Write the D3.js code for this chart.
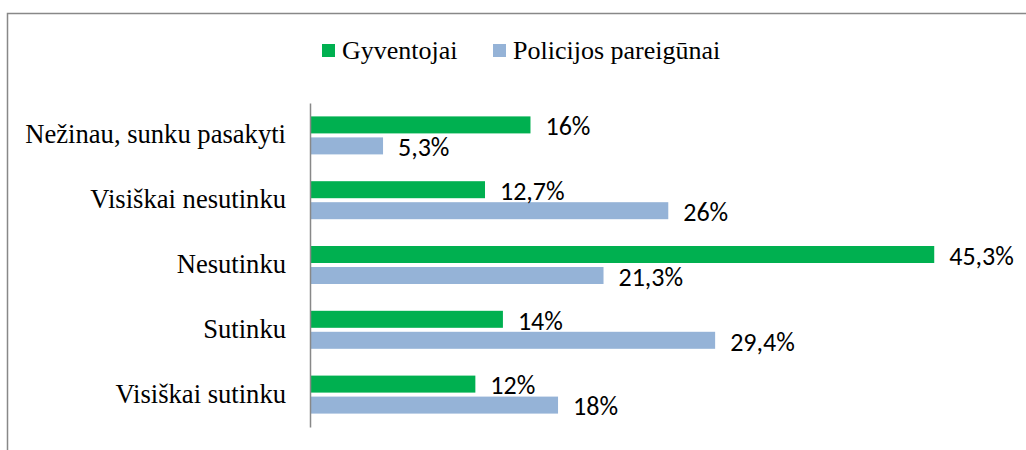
<!DOCTYPE html>
<html><head><meta charset="utf-8">
<script src="https://cdn.jsdelivr.net/npm/d3@7"></script>
<style>body{margin:0;background:#fff}svg{display:block}</style>
</head><body>
<svg id="c" width="1026" height="450"></svg>
<script>
const categories = ["Nežinau, sunku pasakyti","Visiškai nesutinku","Nesutinku","Sutinku","Visiškai sutinku"];
const seriesNames = ["Gyventojai","Policijos pareigūnai"];
const gyventojai = [16, 12.7, 45.3, 14, 12];
const policija = [5.3, 26, 21.3, 29.4, 18];
const colors = ["#00B050","#95B3D7"];

const svg = d3.select("#c");
// outer border
svg.append("path").attr("d","M7.5,460 V13.5 H1040").attr("fill","none").attr("stroke","#888").attr("stroke-width",1.5);

const x = d3.scaleLinear().domain([0,50]).range([310,999]);
const y0 = d3.scaleBand().domain(categories).range([103,427]);
const y1 = d3.scaleBand().domain(seriesNames).range([13.4, 51.4]).paddingInner(0.19);
const fmt = v => String(v).replace(".", ",") + "%";

const data = categories.map((c,i)=>({c, vals:[gyventojai[i], policija[i]]}));
const g = svg.selectAll("g.cat").data(data).enter().append("g").attr("transform",d=>`translate(0,${y0(d.c)})`);
g.selectAll("rect").data(d=>d.vals.map((v,j)=>({v,s:seriesNames[j],j}))).enter().append("rect")
  .attr("x",x(0)).attr("y",d=>y1(d.s)).attr("width",d=>x(d.v)-x(0)).attr("height",y1.bandwidth())
  .attr("fill",d=>colors[d.j]);
g.selectAll("text.v").data(d=>d.vals.map((v,j)=>({v,s:seriesNames[j],j}))).enter().append("text")
  .attr("x",d=>x(d.v)+15).attr("y",d=>y1(d.s)+y1.bandwidth()/2).attr("dy","0.4em")
  .attr("font-family","Carlito, 'Open Sans', sans-serif").attr("font-size",26).attr("fill","#000")
  .text(d=>fmt(d.v));

// category axis
const ax = svg.append("g").attr("transform",`translate(${x(0)},0)`).call(d3.axisLeft(y0).tickSize(0).tickPadding(24));
ax.select(".domain").attr("stroke","#888").attr("stroke-width",1.5);
ax.selectAll("text").attr("font-family","'Liberation Serif','Times New Roman',serif").attr("font-size",26.6).attr("fill","#000").attr("dy","0.3em");

// legend
const leg = [{x:322,tx:342},{x:493,tx:513}];
seriesNames.forEach((s,i)=>{
  svg.append("rect").attr("x",leg[i].x).attr("y",44).attr("width",13).attr("height",13).attr("fill",colors[i]);
  svg.append("text").attr("x",leg[i].tx).attr("y",59).attr("font-family","'Liberation Serif','Times New Roman',serif").attr("font-size",26).attr("fill","#000").text(s);
});
</script>
</body></html>
